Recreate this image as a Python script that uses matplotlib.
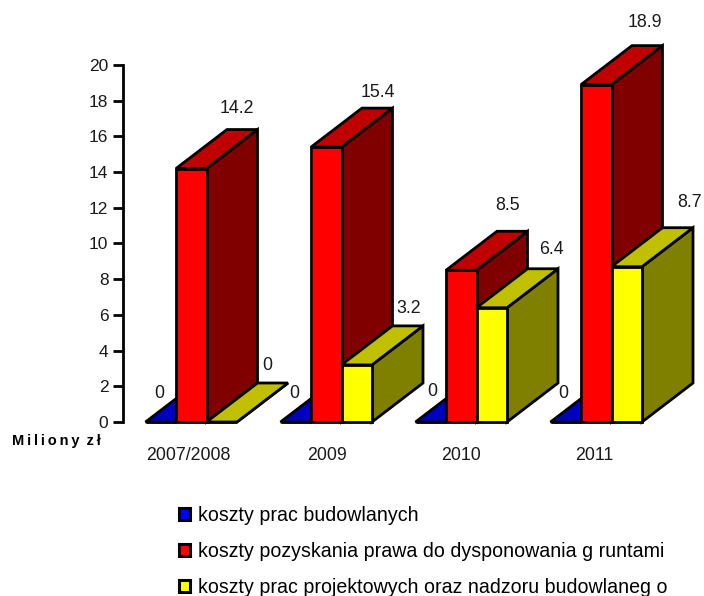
#!/usr/bin/env python3
"""Fake-3D bar chart of project costs per year."""

import matplotlib
matplotlib.use('Agg')
import matplotlib.pyplot as plt
from matplotlib.patches import Patch, Polygon

plt.rcParams['font.family'] = ['Liberation Sans', 'DejaVu Sans']

categories = ['2007/2008', '2009', '2010', '2011']
koszty_budowlane = [0, 0, 0, 0]
koszty_gruntow = [14.2, 15.4, 8.5, 18.9]
koszty_projektowe = [0, 3.2, 6.4, 8.7]
value_labels = {
    'budowlane': ['0', '0', '0', '0'],
    'grunty': ['14.2', '15.4', '8.5', '18.9'],
    'projekt': ['0', '3.2', '6.4', '8.7'],
}
series_names = ['koszty prac budowlanych',
                'koszty pozyskania prawa do dysponowania g runtami',
                'koszty prac projektowych oraz nadzoru budowlaneg o']
y_ticks = list(range(0, 21, 2))

# front / top / side colours
BLUE = ('#0000ff', '#0000c0', '#000080')
RED = ('#ff0000', '#c00000', '#800000')
YELLOW = ('#ffff00', '#c0c000', '#808000')

W, H = 704, 596
BAR_W = 30.5 / 135       # in category units
DEPTH_X = 51 / 135       # in category units
DEPTH_Y = 39 / 17.85     # in value units
LW = 2.0

# label offsets in pixels from the back top right corner of each bar
OFF_BLUE = [(-68, -10), (-68, -11), (-65, -8), (-69, -10)]
OFF_RED = [(-21, 21), (-15, 16), (-20, 26), (-18, 23)]
OFF_YELLOW = [(-21, 17), (-14, 17), (-7, 19), (-3, 25)]
OFF_CATEGORY = [-18, -14, -16, -17]


def draw_bar(ax, x0, val, colors):
    """Draw side, top and front faces of one bar, x0 is the front left corner."""
    x1 = x0 + BAR_W
    side = [(x1, 0), (x1 + DEPTH_X, DEPTH_Y), (x1 + DEPTH_X, val + DEPTH_Y), (x1, val)]
    top = [(x0, val), (x1, val), (x1 + DEPTH_X, val + DEPTH_Y), (x0 + DEPTH_X, val + DEPTH_Y)]
    front = [(x0, 0), (x1, 0), (x1, val), (x0, val)]
    for pts, c in ((side, colors[2]), (top, colors[1]), (front, colors[0])):
        ax.add_patch(Polygon(pts, closed=True, facecolor=c, edgecolor='black',
                             linewidth=LW, joinstyle='miter', clip_on=False))


def draw_label(ax, x0, val, text, off):
    ax.annotate(text, xy=(x0 + BAR_W + DEPTH_X, val + DEPTH_Y), xytext=off,
                textcoords='offset pixels', ha='center', va='center',
                fontsize=12.8, color='#1a1a1a', annotation_clip=False)


def main():
    fig = plt.figure(figsize=(W / 100, H / 100), dpi=100)
    ax = fig.add_axes([123 / W, (H - 422) / H, 540 / W, 357 / H])
    ax.set_xlim(-83.5 / 135, 4 - 83.5 / 135)
    ax.set_ylim(0, 20)

    for i in range(len(categories)):
        draw_bar(ax, i - 2 * BAR_W, koszty_budowlane[i], BLUE)
        draw_bar(ax, i - BAR_W, koszty_gruntow[i], RED)
        draw_bar(ax, i, koszty_projektowe[i], YELLOW)
        draw_label(ax, i - 2 * BAR_W, koszty_budowlane[i], value_labels['budowlane'][i], OFF_BLUE[i])
        draw_label(ax, i - BAR_W, koszty_gruntow[i], value_labels['grunty'][i], OFF_RED[i])
        draw_label(ax, i, koszty_projektowe[i], value_labels['projekt'][i], OFF_YELLOW[i])
        ax.annotate(categories[i], xy=(i, 0), xytext=(OFF_CATEGORY[i], -33),
                    textcoords='offset pixels', ha='center', va='center',
                    fontsize=12.8, color='#1a1a1a', annotation_clip=False)

    for name in ('top', 'right', 'bottom'):
        ax.spines[name].set_visible(False)
    ax.spines['left'].set_linewidth(2)
    ax.set_xticks([])
    ax.set_yticks(y_ticks)
    ax.tick_params(axis='y', length=7, width=2, pad=3.5, labelsize=12.5, labelcolor='#1a1a1a')

    fig.text(12 / W, 1 - 441 / H, 'M\u2009i\u2009l\u2009i\u2009o\u2009n\u2009y\u2009 z\u2009ł',
             fontsize=10.5, fontweight='bold', va='center', ha='left')

    handles = [Patch(facecolor=c[0], edgecolor='black', linewidth=2.2) for c in (BLUE, RED, YELLOW)]
    fig.legend(handles, series_names, loc='upper left',
               bbox_to_anchor=(179 / W, 1 - 506 / H), frameon=False, fontsize=14.1,
               handlelength=0.55, handleheight=0.55, handletextpad=0.42,
               labelspacing=0.86, borderpad=0, borderaxespad=0)

    fig.savefig('out.png', dpi=100)
    plt.close(fig)


if __name__ == '__main__':
    main()
